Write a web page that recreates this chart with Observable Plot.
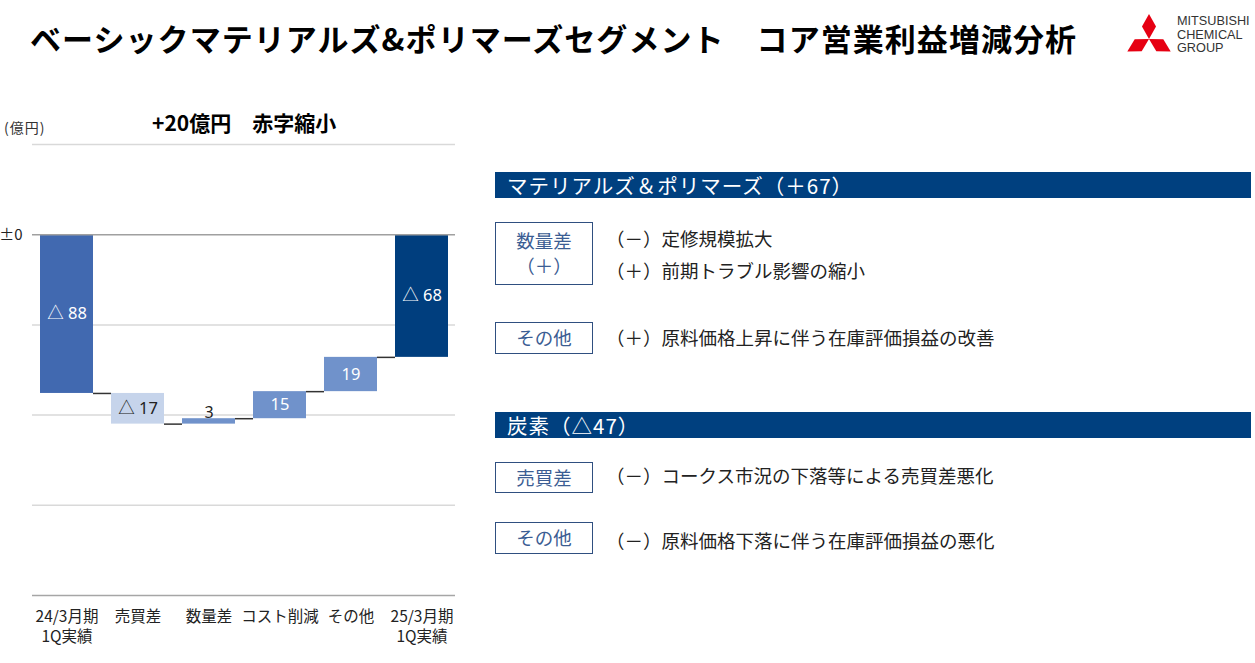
<!DOCTYPE html>
<html>
<head>
<meta charset="utf-8">
<script src="https://cdn.jsdelivr.net/npm/d3@7"></script>
<script src="https://cdn.jsdelivr.net/npm/@observablehq/plot@0.6"></script>
<style>
  html, body { margin: 0; padding: 0; background: #fff; }
  body { width: 1255px; height: 663px; position: relative; overflow: hidden;
         font-family: "Noto Sans CJK JP", "Noto Sans", sans-serif; color: #222; }
  .abs { position: absolute; white-space: nowrap; }
  #title { left: 30px; top: 15px; font-size: 31px; font-weight: 700; color: #000; letter-spacing: 1.05px; line-height: 46px; }
  #unit { left: 4px; top: 118px; font-size: 14px; color: #333; line-height: 18px; letter-spacing: 1px; }
  #subtitle { left: 152px; top: 107px; font-size: 21px; font-weight: 700; color: #000; line-height: 30px; }
  #chart { left: 0; top: 100px; }
  .hdr { left: 495px; width: 756px; height: 26px; background: #00407F; color: #fff;
         font-size: 20.5px; line-height: 26px; padding-left: 12px; box-sizing: border-box; letter-spacing: 1px; }
  .box { left: 495px; width: 98px; border: 1.5px solid #2F4F80; box-sizing: border-box;
         color: #3B5D93; font-size: 18.5px; text-align: center; }
  .item { left: 606px; font-size: 18.5px; color: #222; line-height: 24px; }
  #logo-text { left: 1177px; top: 15px; font-family: "Liberation Sans", Arial, sans-serif; font-size: 12.7px; line-height: 13.5px; color: #333; }
</style>
</head>
<body>
<div id="title" class="abs">ベーシックマテリアルズ&amp;ポリマーズセグメント　コア営業利益増減分析</div>
<svg class="abs" style="left:0;top:0" width="1255" height="70">
  <g fill="#E60012">
    <polygon points="1149,39 1142,26.5 1149,14 1156,26.5"/>
    <polygon points="1149,39 1134.7,39.2 1127.3,51.5 1141.7,51.3"/>
    <polygon points="1149,39 1163.3,39.2 1170.7,51.5 1156.3,51.3"/>
  </g>
</svg>
<div id="logo-text" class="abs">MITSUBISHI<br>CHEMICAL<br>GROUP</div>

<div id="unit" class="abs">(億円)</div>
<div id="subtitle" class="abs">+20億円　赤字縮小</div>
<div id="chart" class="abs"></div>

<div class="abs hdr" style="top:172px">マテリアルズ＆ポリマーズ（＋67）</div>
<div class="abs box" style="top:222px;height:63px;padding-top:5px;line-height:25px">数量差<br>（＋）</div>
<div class="abs item" style="top:226px">（－）定修規模拡大</div>
<div class="abs item" style="top:258px">（＋）前期トラブル影響の縮小</div>
<div class="abs box" style="top:322px;height:32px;line-height:29px">その他</div>
<div class="abs item" style="top:325px">（＋）原料価格上昇に伴う在庫評価損益の改善</div>

<div class="abs hdr" style="top:412px">炭素（△47）</div>
<div class="abs box" style="top:462px;height:31px;line-height:28px">売買差</div>
<div class="abs item" style="top:463px">（－）コークス市況の下落等による売買差悪化</div>
<div class="abs box" style="top:522px;height:32px;line-height:29px">その他</div>
<div class="abs item" style="top:528px">（－）原料価格下落に伴う在庫評価損益の悪化</div>

<script>
// ---- data ----
const categories = ["24/3月期\n1Q実績", "売買差", "数量差", "コスト削減", "その他", "25/3月期\n1Q実績"];
const startValue = -88;
const deltas = [-17, 3, 15, 19];
const endValue = -68;
const valueLabels = ["△ 88", "△ 17", "3", "15", "19", "△ 68"];
const gridValues = [50, -50, -100, -150];
const yDomain = [-200, 50];

// ---- build waterfall rows ----
const rows = [];
rows.push({cat: categories[0], y1: 0, y2: startValue, kind: "total1"});
let run = startValue;
deltas.forEach((d, i) => {
  rows.push({cat: categories[i + 1], y1: run, y2: run + d, kind: d < 0 ? "neg" : "pos", delta: d});
  run += d;
});
rows.push({cat: categories[categories.length - 1], y1: 0, y2: endValue, kind: "total2"});
rows.forEach((r, i) => { r.label = valueLabels[i]; });

const colorOf = {total1: "#4169B0", neg: "#C6D4EB", pos: "#7092CB", total2: "#003E7E"};

const connectors = rows.slice(0, -1).map((r, i) => ({from: r.cat, to: rows[i + 1].cat, y: r.y2}));

const inside = rows.filter(r => !(r.delta !== undefined && Math.abs(r.delta) < 5));
const outside = rows.filter(r => r.delta !== undefined && Math.abs(r.delta) < 5);

const chart = Plot.plot({
  width: 470,
  height: 563,
  marginTop: 44,
  marginBottom: 68,
  marginLeft: 32,
  marginRight: 15,
  style: {fontFamily: "'Noto Sans CJK JP', 'Noto Sans', sans-serif", background: "transparent", color: "#222", overflow: "visible"},
  x: {domain: categories, paddingInner: 0.26, paddingOuter: 0.1},
  y: {domain: yDomain},
  marks: [
    Plot.ruleY(gridValues, {stroke: "#D9D9D9", strokeWidth: 1.5}),
    Plot.ruleY([yDomain[0]], {stroke: "#A6A6A6", strokeWidth: 1.5}),
    Plot.ruleY(connectors, {x1: "to", x2: "from", y: "y", stroke: "#333", strokeWidth: 1.5}),
    Plot.barY(rows, {x: "cat", y1: "y1", y2: "y2", fill: r => colorOf[r.kind]}),
    Plot.ruleY([0], {stroke: "#A0A0A0", strokeWidth: 1.5}),
    Plot.text(inside, {x: "cat", y: r => (r.y1 + r.y2) / 2, text: "label",
      fill: r => r.kind === "neg" ? "#222" : "#fff", fontSize: 16.5, fontFamily: "'Noto Sans', 'Noto Sans CJK JP', sans-serif"}),
    Plot.text(outside, {x: "cat", y: r => Math.max(r.y1, r.y2), text: "label", lineAnchor: "bottom", dy: -1,
      fill: "#222", fontSize: 16, fontFamily: "'Noto Sans', 'Noto Sans CJK JP', sans-serif"}),
    Plot.axisX({tickSize: 0, tickPadding: 12, fontSize: 15.5, lineHeight: 1.3, label: null}),
    Plot.axisY([0], {tickSize: 0, tickPadding: 10, fontSize: 15, tickFormat: () => "±0", label: null})
  ]
});
document.getElementById("chart").appendChild(chart);
</script>
</body>
</html>
